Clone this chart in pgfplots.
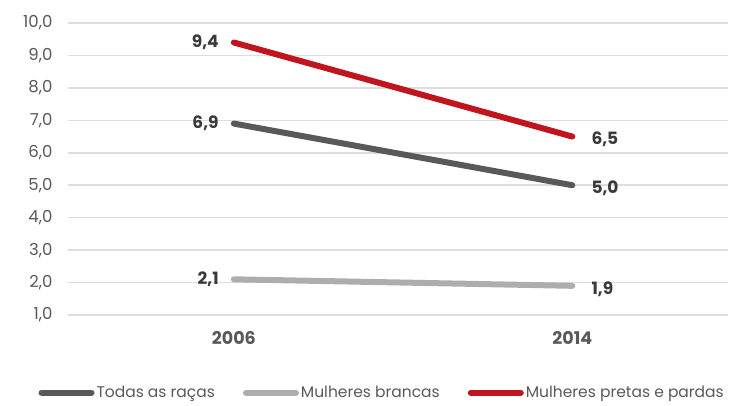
\documentclass[border=0pt]{standalone}
\usepackage{pgfplots}
\usepackage{pgfplotstable}
\pgfplotsset{compat=1.18}
\usepackage{fontspec}
\setmainfont{Poppins}
\definecolor{cdark}{HTML}{595959}
\definecolor{clight}{HTML}{ADADAD}
\definecolor{cred}{HTML}{C0141F}
\definecolor{cgrid}{HTML}{DDDDDD}
\definecolor{ctext}{HTML}{595959}
\definecolor{clabel}{HTML}{3A3A3A}
\pgfplotstableread{
x y lbl
0 6.9 6,9
1 5.0 5,0
}\todas
\pgfplotstableread{
x y lbl
0 2.1 2,1
1 1.9 1,9
}\brancas
\pgfplotstableread{
x y lbl
0 9.4 9,4
1 6.5 6,5
}\pretas
\begin{document}
\begin{tikzpicture}
\begin{axis}[
  at={(0,0)}, anchor=south west,
  scale only axis, width=660pt, height=292pt,
  xmin=-0.49, xmax=1.46, ymin=1, ymax=10,
  ytick={1,2,...,10},
  xtick={0,1}, xticklabels={2006,2014},
  axis line style={draw=none},
  major tick length=0pt,
  ymajorgrids, grid style={cgrid, line width=1.5pt},
  /pgf/number format/.cd, fixed, fixed zerofill, precision=1, use comma, assume math mode=true,
  /pgfplots/.cd,
  yticklabel style={font=\fontsize{16.5}{19}\selectfont, text=ctext, xshift=-12pt},
  xticklabel style={font=\bfseries\fontsize{17.5}{20}\selectfont, text=ctext, yshift=-13pt},
  legend columns=3,
  legend style={at={(0.476,-0.266)}, anchor=center, draw=none, fill=none,
    font=\fontsize{15.5}{18}\selectfont, text=ctext, inner sep=0pt,
    /tikz/every even column/.append style={column sep=26pt}},
  legend image code/.code={\draw[#1, line width=6pt, line cap=round] (0pt,0pt) -- (50pt,0pt);},
  clip=false,
  lbl/.style={draw=none, forget plot, point meta=explicit symbolic, nodes near coords,
    every node near coord/.style={font=\bfseries\fontsize{17}{20}\selectfont, text=clabel, inner sep=0pt}},
]
\addplot[cdark, line width=6pt, line cap=round] table[x=x, y=y] {\todas};
\addlegendentry{Todas as raças}
\addplot[clight, line width=6pt, line cap=round] table[x=x, y=y] {\brancas};
\addlegendentry{Mulheres brancas}
\addplot[cred, line width=6pt, line cap=round] table[x=x, y=y] {\pretas};
\addlegendentry{Mulheres pretas e pardas}
% data labels
\addplot[lbl, every node near coord/.append style={anchor=east, xshift=-15pt}]
  table[x=x, y=y, meta=lbl, skip coords between index={1}{2}] {\todas};
\addplot[lbl, every node near coord/.append style={anchor=west, xshift=19pt, yshift=-3pt}]
  table[x=x, y=y, meta=lbl, skip coords between index={0}{1}] {\todas};
\addplot[lbl, every node near coord/.append style={anchor=east, xshift=-15pt}]
  table[x=x, y=y, meta=lbl, skip coords between index={1}{2}] {\brancas};
\addplot[lbl, every node near coord/.append style={anchor=west, xshift=19pt, yshift=-3pt}]
  table[x=x, y=y, meta=lbl, skip coords between index={0}{1}] {\brancas};
\addplot[lbl, every node near coord/.append style={anchor=east, xshift=-15pt}]
  table[x=x, y=y, meta=lbl, skip coords between index={1}{2}] {\pretas};
\addplot[lbl, every node near coord/.append style={anchor=west, xshift=19pt, yshift=-3pt}]
  table[x=x, y=y, meta=lbl, skip coords between index={0}{1}] {\pretas};
\end{axis}
\path[use as bounding box] (-68pt,-90pt) rectangle (663pt,315pt);
\end{tikzpicture}
\end{document}
